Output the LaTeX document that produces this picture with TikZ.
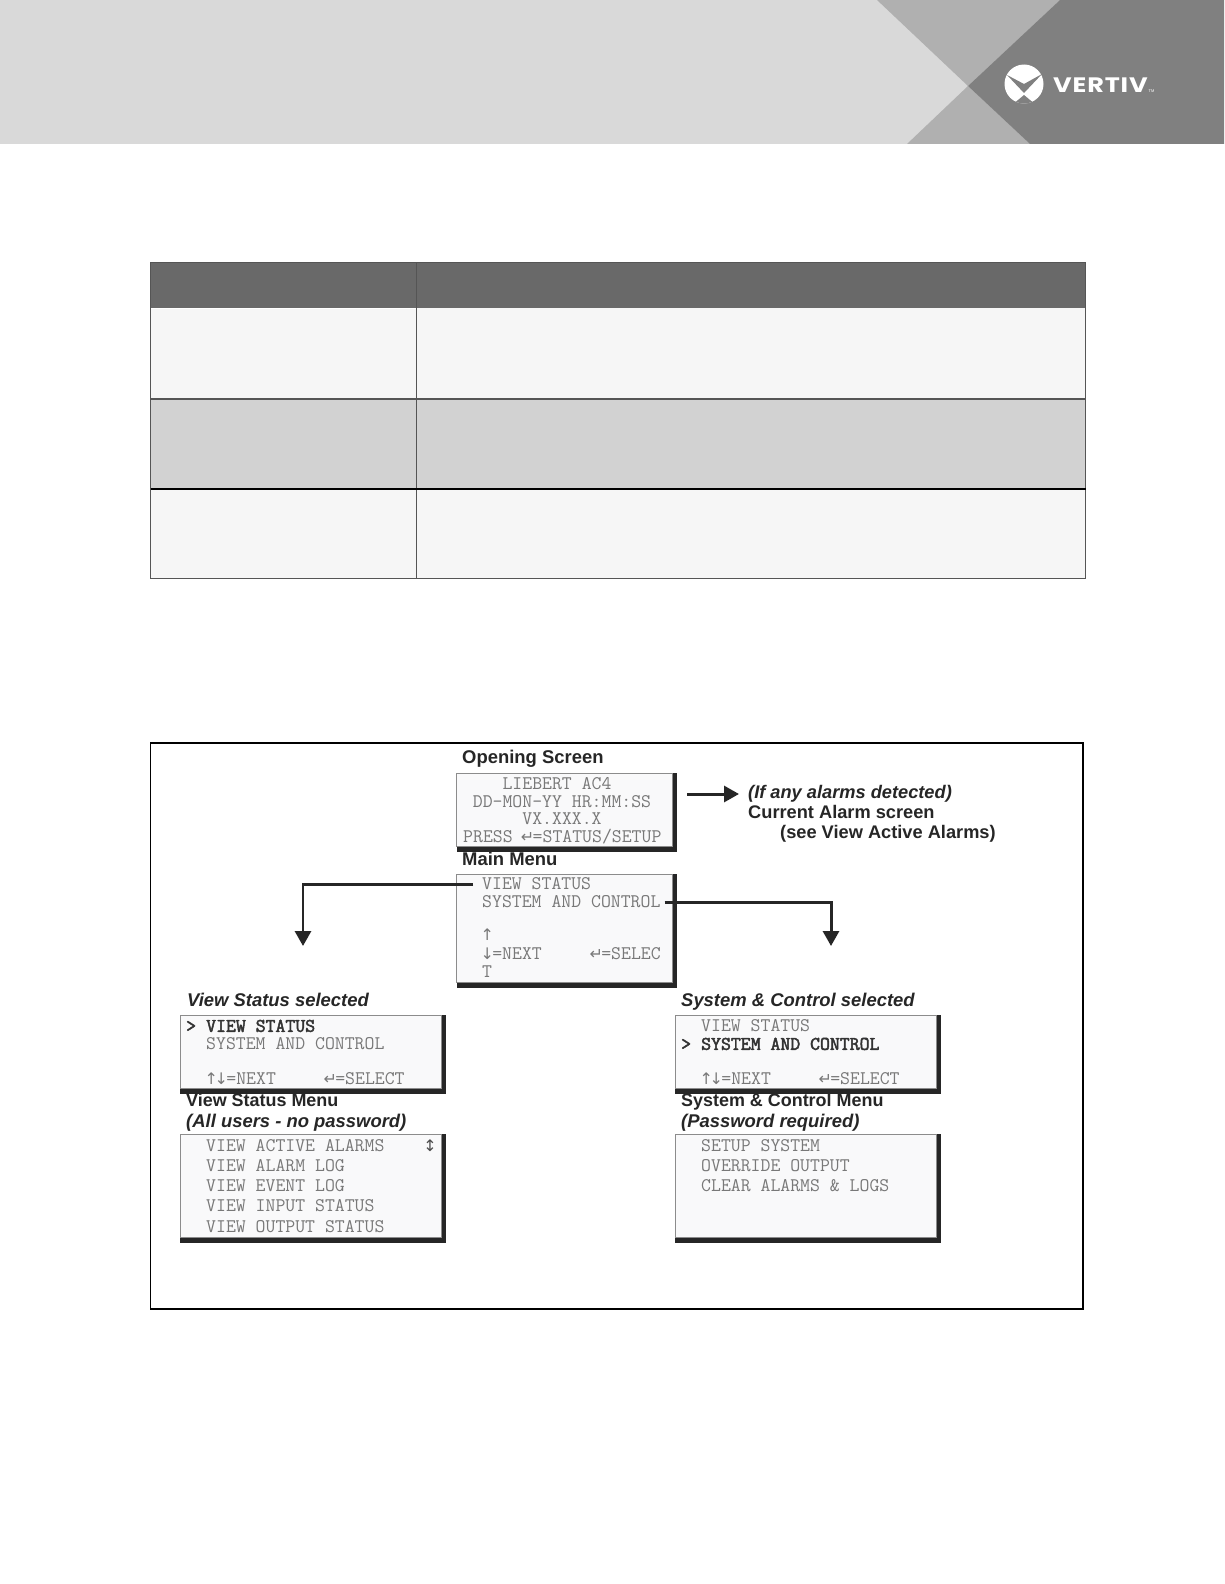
\documentclass[tikz,border=0pt]{standalone}
\usepackage{fontspec}
\setmainfont{Liberation Sans}
\setmonofont{Latin Modern Mono}[BoldFont={Latin Modern Mono}, BoldFeatures={FakeBold=2.5}]
\newfontfamily\symfont{DejaVu Sans}
\newfontfamily\brandfont{Poppins}[FakeStretch=1.22, LetterSpace=4]
\usetikzlibrary{arrows.meta, positioning, calc}
\definecolor{bandgrey}{RGB}{217, 217, 217}
\definecolor{midgrey}{RGB}{176, 176, 176}
\definecolor{darkgrey}{RGB}{128, 128, 128}
\definecolor{headgrey}{RGB}{105, 105, 105}
\definecolor{rowlight}{RGB}{246, 246, 246}
\definecolor{rowdark}{RGB}{210, 210, 210}
\definecolor{rulegrey}{RGB}{85, 85, 85}
\definecolor{screenink}{RGB}{120, 120, 120}
\definecolor{screenfill}{RGB}{249, 249, 250}
\newcommand{\keychar}[1]{\makebox[10.1bp][c]{\symfont\fontsize{16}{16}\selectfont #1}}
\tikzset{
  screenline/.style={anchor=west, inner sep=0pt, text height=11.6bp, text depth=0pt, text=screenink, font=\ttfamily\fontsize{19.3}{19.3}\selectfont},
  screenbold/.style={screenline, text=black!80, font=\ttfamily\bfseries\fontsize{19.3}{19.3}\selectfont},
  screentitle/.style={anchor=base west, inner sep=0pt, text=black!85, font=\bfseries\fontsize{18.5}{18.5}\selectfont},
  screentitleit/.style={screentitle, font=\bfseries\itshape\fontsize{18.5}{18.5}\selectfont},
  menutitle/.style={screentitle, font=\bfseries\fontsize{18}{18}\selectfont},
  alarmtext/.style={screentitle, font=\bfseries\fontsize{18.3}{18.3}\selectfont},
  flowline/.style={line width=3pt, black!85, -{Triangle[length=15pt, width=16pt]}},
}
\begin{document}
\begin{tikzpicture}[x=1bp, y=-1bp]
  \useasboundingbox (0,0) rectangle (1224,1584);
  \fill[white] (0,0) rectangle (1224,1584);
  % header band
  \fill[bandgrey] (0,0) rectangle (1224,144);
  \fill[midgrey] (877,0) -- (1060,0) -- (968,86) -- cycle;
  \fill[midgrey] (907,144) -- (1030,144) -- (968,86) -- cycle;
  \fill[darkgrey] (1060,0) -- (1224,0) -- (1224,144) -- (1030,144) -- (968,86) -- cycle;
  \fill[white] (1024,84) circle[radius=19.5];
  \begin{scope}
    \clip (1024,84) circle[radius=19.5];
    \fill[darkgrey] (1007,75) -- (1024,84) -- (1042,74) -- (1024,93) -- cycle;
    \fill[darkgrey] (1024,95) -- (1012,105) -- (1036,105) -- cycle;
  \end{scope}
  \node[anchor=base west, inner sep=0pt, text=white, font=\brandfont\bfseries\fontsize{21}{21}\selectfont] (brand) at (1053,92.5) {VERTIV};
  \node[inner sep=0pt, text=white, font=\fontsize{4}{4}\selectfont, right=0.5bp of brand.base east, anchor=base west] (brandtm) {TM};
  % table
  \foreach \ya/\yb/\rowcol in {262/308/headgrey, 308/399/rowlight, 399/489/rowdark, 489/578/rowlight}
    \fill[\rowcol] (150.5,\ya) rectangle (1085.5,\yb);
  \draw[rulegrey, line width=1pt] (150.5,262) rectangle (1085.5,578);
  \draw[rulegrey, line width=1pt] (416.5,262) -- (416.5,578);
  \draw[white, line width=1pt] (151,308.5) -- (416,308.5);
  \draw[rulegrey, line width=2pt] (150.5,399) -- (1085.5,399);
  \draw[black, line width=2pt] (150.5,489) -- (1085.5,489);
  % figure frame
  \draw[black, line width=2pt] (150.5,743) rectangle (1082.5,1309);
  % screens
  \foreach \nm/\xa/\ya/\xb/\yb in {opening/456.5/773/672.5/846, mainmenu/456.5/874/672.5/982, viewsel/180/1015/441.5/1088, viewmenu/180/1134/441.5/1237, syssel/675/1015/936.5/1088, sysmenu/675/1134/936.5/1237} {
    \fill[black!85] (\xa,\ya) rectangle (\xb+4.5,\yb+5.5);
    \node[draw=black!45, line width=1pt, fill=screenfill, inner sep=0pt, minimum width={(\xb-\xa)*1bp}, minimum height={(\yb-\ya)*1bp}] (\nm) at ({(\xa+\xb)/2},{(\ya+\yb)/2}) {};
  }
  % opening screen
  \node[screentitle] (openingtitle) at (462,763.5) {Opening Screen};
  \node[screenline, anchor=center] (liebert) at (557,784) {LIEBERT AC4};
  \node[screenline, anchor=center] (datetime) at (562,802) {DD-MON-YY HR:MM:SS};
  \node[screenline, anchor=center] (version) at (562,819) {VX.XXX.X};
  \node[screenline] (press) at (463,837) {PRESS \keychar{↵}=STATUS/SETUP};
  \node[alarmtext, font=\bfseries\itshape\fontsize{18.3}{18.3}\selectfont] (ifalarms) at (748,798) {(If any alarms detected)};
  \node[alarmtext] (current) at (748,818) {Current Alarm screen};
  \node[alarmtext] (seeview) at (780,838.5) {(see View Active Alarms)};
  \coordinate (alarmstart) at (687,794);
  \coordinate (alarmtip) at (739,794);
  \draw[flowline] (alarmstart) -- (alarmtip);
  % main menu
  \node[screentitle] (maintitle) at (462,865) {Main Menu};
  \node[screenline] (mainview) at (482,884) {VIEW STATUS};
  \node[screenline] (mainsys) at (482,902) {SYSTEM AND CONTROL};
  \node[screenline] (mainup) at (482,935) {\keychar{↑}};
  \node[screenline] (mainnext) at (482,954) {\keychar{↓}=NEXT};
  \node[screenline] (mainselect) at (591,954) {\keychar{↵}=SELEC};
  \node[screenline] (maint) at (482,972) {T};
  \coordinate (lefttip) at (303,946);
  \coordinate (righttip) at (831,946);
  \draw[flowline] (mainview.west) ++(-9,0) -| (lefttip);
  \draw[flowline] (mainsys.east) ++(4,0) -| (righttip);
  % view status selected
  \node[screentitleit] (viewseltitle) at (187,1006) {View Status selected};
  \node[screenbold] (viewmark) at (186,1026) {>};
  \node[screenbold] (viewa) at (206,1026) {VIEW STATUS};
  \node[screenline] (viewb) at (206,1044) {SYSTEM AND CONTROL};
  \node[screenline] (viewnext) at (206,1079) {\keychar{↑}\keychar{↓}=NEXT};
  \node[screenline] (viewselect) at (325,1079) {\keychar{↵}=SELECT};
  % view status menu
  \node[menutitle] (viewmenutitle) at (186,1106.5) {View Status Menu};
  \node[screentitleit] (viewmenusub) at (186,1127.5) {(All users - no password)};
  \node[screenline] (vma) at (206,1146) {VIEW ACTIVE ALARMS};
  \node[screenline] (vmb) at (206,1166) {VIEW ALARM LOG};
  \node[screenline] (vmc) at (206,1186) {VIEW EVENT LOG};
  \node[screenline] (vmd) at (206,1206) {VIEW INPUT STATUS};
  \node[screenline] (vme) at (206,1227) {VIEW OUTPUT STATUS};
  \node[screenline, anchor=center, text=black!70] (vmarrow) at (430,1146) {\keychar{↕}};
  % system and control selected
  \node[screentitleit] (sysseltitle) at (681,1006) {System \& Control selected};
  \node[screenline] (sysa) at (701,1026) {VIEW STATUS};
  \node[screenbold] (sysmark) at (681,1044) {>};
  \node[screenbold] (sysb) at (701,1044) {SYSTEM AND CONTROL};
  \node[screenline] (sysnext) at (701,1079) {\keychar{↑}\keychar{↓}=NEXT};
  \node[screenline] (sysselect) at (820,1079) {\keychar{↵}=SELECT};
  % system and control menu
  \node[menutitle] (sysmenutitle) at (681,1106.5) {System \& Control Menu};
  \node[screentitleit] (sysmenusub) at (681,1127.5) {(Password required)};
  \node[screenline] (sma) at (701,1146) {SETUP SYSTEM};
  \node[screenline] (smb) at (701,1166) {OVERRIDE OUTPUT};
  \node[screenline] (smc) at (701,1186) {CLEAR ALARMS \& LOGS};
\end{tikzpicture}
\end{document}
